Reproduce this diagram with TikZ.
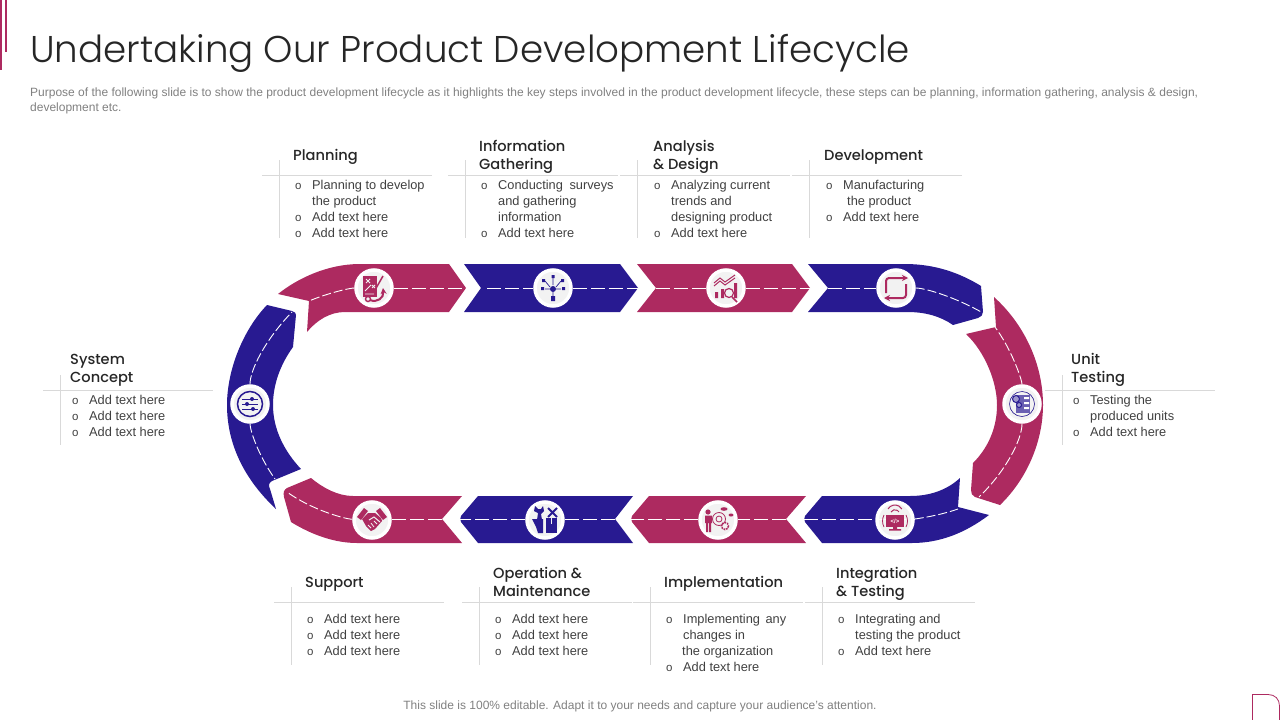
\documentclass[tikz,border=0pt]{standalone}
\usepackage{fontspec}
\setmainfont{Liberation Sans}
\newfontfamily\titlefont{Poppins}[UprightFont=* Light]
\newfontfamily\headfont{Poppins}[UprightFont=* Medium]
\definecolor{BrandCrimson}{HTML}{AD2A60}
\definecolor{BrandNavy}{HTML}{281A91}
\definecolor{RuleGray}{HTML}{D9D9D9}
\definecolor{BodyGray}{HTML}{404040}
\definecolor{NoteGray}{HTML}{808080}
\definecolor{DiscGray}{HTML}{F2F2F2}
\usetikzlibrary{arrows.meta,positioning}
\newcommand{\bul}{\strut\makebox[15pt][l]{\hspace*{-2pt}\fontsize{11.5}{16}\selectfont o}}
\newcommand{\cont}{\strut\hspace*{15pt}}
\begin{document}
\begin{tikzpicture}[
    x=1pt,y=-1pt,
    crimson/.style={fill=BrandCrimson},
    navy/.style={fill=BrandNavy},
    disc/.style={circle,draw=white,line width=3.5pt,fill=DiscGray,
      minimum size=36pt,inner sep=0pt},
    dashline/.style={white,line width=1pt,dash pattern=on 14pt off 4pt},
    dashcurve/.style={white,line width=0.9pt,dash pattern=on 9pt off 3pt},
    rulegray/.style={RuleGray,line width=0.6pt},
    heading/.style={inner sep=0pt,align=left,text=black!85,
      font=\headfont\fontsize{14.6}{18}\selectfont},
    bodytext/.style={inner sep=0pt,align=left,text=BodyGray,
      font=\fontsize{12.8}{16}\selectfont},
    iconc/.style={draw=BrandCrimson,line width=1pt},
    iconb/.style={draw=BrandNavy,line width=1pt},
    arr/.style={-{Stealth[length=6pt,width=6pt]}}
  ]
    \useasboundingbox (0,0) rectangle (1280,720);

    \fill[crimson] (0,0) rectangle (2,70);
    \fill[crimson] (5,0) rectangle (7,52);
    \draw[BrandCrimson,line width=0.8pt] (1252.5,720) -- (1252.5,694.5) -- (1268,694.5)
      .. controls (1275,694.5) and (1279.5,699) .. (1279.5,706) -- (1279.5,720);

    \node[anchor=west,inner sep=0pt,text=black!85,
      font=\titlefont\fontsize{37.25}{44}\selectfont] (title) at (30,53)
      {Undertaking Our Product Development Lifecycle};
    \node[anchor=north west,inner sep=0pt,align=left,text=NoteGray,
      font=\fontsize{12}{15}\selectfont] (purpose) at (30,87.5)
      {Purpose of the following slide is to show the product development lifecycle as it highlights the key steps involved in the product development lifecycle, these steps can be planning, information gathering, analysis \& design,\\
       development etc.};
    \node[inner sep=0pt,text=NoteGray,font=\fontsize{12}{14}\selectfont] (note) at (640,706)
      {This slide is 100\% editable. Adapt it to your needs and capture your audience's attention.};

    \fill[crimson] (278,294) .. controls (298,278) and (328,264) .. (360,264) -- (449,264)
      -- (466,288) -- (449,312) -- (345,312) .. controls (330,312) and (317,320) .. (307,332)
      -- (309,301) -- cycle;
    \fill[navy] (464,264) -- (620,264) -- (638,288) -- (620,312) -- (464,312) -- (481,288) -- cycle;
    \fill[crimson] (637,264) -- (792,264) -- (810,288) -- (792,312) -- (637,312) -- (656,288) -- cycle;
    \fill[navy] (808,264) -- (905,264) .. controls (935,264) and (960,273) .. (981,286)
      -- (983,312) .. controls (983,315) and (981,317) .. (978,318) -- (953,325)
      .. controls (940,316) and (925,312) .. (907,312) -- (808,312) -- (828,288) -- cycle;
    \fill[crimson] (994,297) .. controls (1025,325) and (1043,365) .. (1043,405)
      .. controls (1043,440) and (1028,478) .. (1000,505) -- (975,497)
      .. controls (972,496) and (971,493) .. (971,490) -- (973,463)
      .. controls (988,448) and (997,428) .. (997,405)
      .. controls (997,382) and (985,352) .. (966,334) -- (996,327) -- cycle;
    \fill[navy] (989,515) .. controls (965,533) and (940,543) .. (912,543) -- (822,543)
      -- (805,522) .. controls (804,520) and (804,518) .. (805,516) -- (822,496) -- (910,496)
      .. controls (930,496) and (947,490) .. (960,478) -- (958,507) -- cycle;
    \fill[crimson] (806,496) -- (786,519) -- (806,543) -- (649,543) -- (632,522)
      .. controls (631,520) and (631,518) .. (632,516) -- (649,496) -- cycle;
    \fill[navy] (633,496) -- (615,519) -- (633,543) -- (478,543) -- (461,522)
      .. controls (460,520) and (460,518) .. (461,516) -- (478,496) -- cycle;
    \fill[crimson] (462,496) -- (442,519) -- (462,543) -- (357,543)
      .. controls (335,543) and (312,535) .. (291,522) -- (284,497)
      .. controls (283,492) and (284,490) .. (287,488) -- (311,478)
      .. controls (323,488) and (338,496) .. (353,496) -- cycle;
    \fill[navy] (276,509) .. controls (245,480) and (227,445) .. (227,405)
      .. controls (227,370) and (243,330) .. (267,305) -- (292,311)
      .. controls (295,312) and (296,313) .. (296,315) -- (293,347)
      .. controls (280,365) and (273,385) .. (273,405)
      .. controls (273,430) and (285,452) .. (301,469) -- (272,481)
      .. controls (269,483) and (268,485) .. (270,489) -- cycle;

    \coordinate (planEnd) at (309,301);
    \coordinate (planTip) at (466,288);
    \coordinate (gatherStart) at (487,288);
    \coordinate (gatherTip) at (638,288);
    \coordinate (analysisStart) at (656,288);
    \coordinate (analysisTip) at (810,288);
    \coordinate (devStart) at (828,288);
    \coordinate (devEnd) at (983,313);
    \coordinate (unitEnd) at (995,327);
    \coordinate (unitTail) at (979,497);
    \coordinate (integEnd) at (958,509);
    \coordinate (integTip) at (804,519);
    \coordinate (implStart) at (786,519);
    \coordinate (implTip) at (631,519);
    \coordinate (opStart) at (615,519);
    \coordinate (opTip) at (460,519);
    \coordinate (supStart) at (442,519);
    \coordinate (supEnd) at (287,492);
    \coordinate (sysEnd) at (292,312);
    \coordinate (sysTail) at (275,479);

    \node[disc] (plan) at (374,288) {};
    \node[disc] (gather) at (553,288) {};
    \node[disc] (analysis) at (726,288) {};
    \node[disc] (dev) at (896,288) {};
    \node[disc] (unit) at (1022,404) {};
    \node[disc] (integ) at (895,520) {};
    \node[disc] (impl) at (718,520) {};
    \node[disc] (oper) at (545,520) {};
    \node[disc] (support) at (372,520) {};
    \node[disc] (system) at (250,404) {};

    \draw[dashcurve] (plan) .. controls (350,288) and (328,293) .. (planEnd);
    \draw[dashline] (plan.east |- planTip) -- (planTip);
    \draw[dashline] (gatherStart) -- (gather.west |- gatherStart);
    \draw[dashline] (gather.east |- gatherTip) -- (gatherTip);
    \draw[dashline] (analysisStart) -- (analysis.west |- analysisStart);
    \draw[dashline] (analysis.east |- analysisTip) -- (analysisTip);
    \draw[dashline] (devStart) -- (dev.west |- devStart);
    \draw[dashcurve] (dev) .. controls (925,288) and (955,297) .. (devEnd);
    \draw[dashcurve] (unit) .. controls (1022,380) and (1012,350) .. (unitEnd);
    \draw[dashcurve] (unit) .. controls (1022,440) and (1005,472) .. (unitTail);
    \draw[dashcurve] (integ) .. controls (915,519) and (938,516) .. (integEnd);
    \draw[dashline] (integTip) -- (integ.east |- integTip);
    \draw[dashline] (implStart) -- (impl.east |- implStart);
    \draw[dashline] (impl.west |- implTip) -- (implTip);
    \draw[dashline] (opStart) -- (oper.east |- opStart);
    \draw[dashline] (oper.west |- opTip) -- (opTip);
    \draw[dashline] (supStart) -- (support.east |- supStart);
    \draw[dashcurve] (support) .. controls (345,519) and (312,510) .. (supEnd);
    \draw[dashcurve] (system) .. controls (250,370) and (265,340) .. (sysEnd);
    \draw[dashcurve] (system) .. controls (250,430) and (258,455) .. (sysTail);

    \begin{scope}[shift={(plan)}]
      \fill[crimson] (-11,-12) rectangle (3,9);
      \draw[DiscGray,line width=0.9pt] (-8,-9) -- (-4,-5) (-4,-9) -- (-8,-5) (-2,-3) -- (1,0) (1,-3) -- (-2,0)
        (-9,3) -- (-3,-3) (-9,6) -- (0,6);
      \draw[iconc,line width=1.5pt] (1,2) -- (9,-12);
      \draw[iconc,line width=2pt,arr] (-4,12) .. controls (3,15) and (10,10) .. (9,0);
      \draw[iconc,fill=DiscGray,line width=1.4pt] (-6,11) circle (2.5);
    \end{scope}
    \begin{scope}[shift={(gather)}]
      \fill[navy] (0,1) circle (3);
      \draw[iconb,line width=0.7pt] (-3,-1) -- (-8,-7) (0,-3) -- (0,-10) (3,-1) -- (8,-7)
        (-3,1) -- (-8,1) (3,1) -- (8,1) (0,4) -- (0,8);
      \fill[navy] (-11,-9) rectangle (-8,-6) (-1.5,-13) rectangle (1.5,-10) (8,-9) rectangle (11,-6)
        (-12,-1) rectangle (-9,2) (9,-1) rectangle (12,2) (-2,8) rectangle (2,13);
    \end{scope}
    \begin{scope}[shift={(analysis)}]
      \fill[crimson] (-11,4) rectangle (-8,10) (-5,1) rectangle (-2,10) (8,-5) rectangle (11,10);
      \draw[iconc] (-12,-5) -- (-6,-10) -- (-1,-6) -- (9,-13);
      \draw[iconc] (-12,-2) -- (-6,-7) -- (-1,-3) -- (9,-10);
      \draw[iconc,line width=1.2pt] (3,5) circle (4.5);
      \draw[iconc,line width=1.6pt] (6,9) -- (11,14);
    \end{scope}
    \begin{scope}[shift={(dev)}]
      \draw[iconc,arr,line width=2pt,rounded corners=3pt] (-10,5) -- (-10,-10) -- (12,-10);
      \draw[iconc,arr,line width=2pt,rounded corners=3pt] (10,-4) -- (10,10) -- (-12,10);
    \end{scope}
    \begin{scope}[shift={(unit)}]
      \draw[iconb,line width=0.6pt] (0,0) circle (12.5);
      \fill[BrandNavy!70] (-6,-9) rectangle (8,9);
      \fill[white] (2,-7) rectangle (7,-5) (2,-2) rectangle (7,0) (2,3) rectangle (7,5);
      \draw[iconb,fill=BrandNavy!45] (-6,-5) circle (3.5);
      \draw[iconb,fill=BrandNavy!45] (-3,1) circle (2.5);
    \end{scope}
    \begin{scope}[shift={(integ)}]
      \fill[crimson] (-9,-5) rectangle (9,7);
      \fill[crimson] (-2,7) rectangle (2,9) (-6,9) rectangle (6,10.5);
      \node[inner sep=0pt,text=white,font=\bfseries\fontsize{6}{6}\selectfont] (integCode) at (0,1) {</>};
      \draw[iconc] (-4,-8) arc[start angle=-150,end angle=-30,radius=4.6];
      \draw[iconc] (-7,-11) arc[start angle=-150,end angle=-30,radius=8];
      \draw[iconc,line width=0.8pt] (-11,-5) .. controls (-13,-1) and (-13,3) .. (-11,7);
      \draw[iconc,line width=0.8pt] (11,-5) .. controls (13,-1) and (13,3) .. (11,7);
    \end{scope}
    \begin{scope}[shift={(impl)}]
      \fill[crimson] (-10,-8) circle (2.6);
      \fill[crimson] (-13,-4.5) rectangle (-6,3) (-12,3) rectangle (-10,12) (-9,3) rectangle (-7,12);
      \draw[iconc,line width=0.8pt] (1,-1) circle (6.5);
      \draw[iconc,line width=0.8pt] (1,-1) circle (3);
      \draw[iconc,line width=1.6pt,densely dotted] (7,6) circle (3.5);
      \fill[crimson] (6,-11) ellipse (3.5 and 1.8) (13,-5) ellipse (2.5 and 1.5);
    \end{scope}
    \begin{scope}[shift={(oper)}]
      \fill[navy] (-13,-1) -- (-2,-1) -- (-2,13) -- (-7,13) -- (-9,7) -- cycle;
      \fill[navy] (1,-2) rectangle (12,13);
      \draw[DiscGray,line width=0.9pt] (6.5,-2) -- (6.5,4);
      \fill[navy] (-8,0) -- (-7,-7) -- (-11,-9) -- (-10,-14) -- (-7,-11) -- (-4,-11) -- (-2,-14) -- (-1,-9) -- (-4,-6) -- (-3,0) -- cycle;
      \draw[iconb,line width=2pt] (3,-12) -- (12,-3) (12,-12) -- (3,-3);
    \end{scope}
    \begin{scope}[shift={(support)}]
      \fill[crimson] (-15,-3) -- (-8,-12) -- (-4,-9) -- (-11,0) -- cycle;
      \fill[crimson] (15,-3) -- (8,-12) -- (4,-9) -- (11,0) -- cycle;
      \fill[crimson] (-10,-1) -- (-4,-7) -- (3,-7) -- (9,-2) -- (10,1) -- (3,9) -- (-1,11) -- (-6,6) -- cycle;
      \draw[DiscGray,line width=1pt] (-3,0) -- (2,-3) -- (8,2);
      \draw[DiscGray,line width=0.8pt] (-4,5) -- (-1,8) (-1,3) -- (2,7) (2,1) -- (5,4);
    \end{scope}
    \begin{scope}[shift={(system)}]
      \draw[iconb,line width=1.5pt] (0,0) circle (12.5);
      \draw[iconb] (-8,-5) -- (8,-5) (-8,0) -- (8,0) (-8,5) -- (8,5);
      \fill[navy] (2,-5) circle (2) (-3,0) circle (2) (3,5) circle (2);
    \end{scope}

    \coordinate (planRule) at (279,175);
    \draw[rulegray] ([xshift=-17pt]planRule) -- ([xshift=153pt]planRule)
      ([yshift=15pt]planRule) -- ([yshift=-63pt]planRule);
    \node[heading,above right=8.6pt and 14pt of planRule] (planHead) {Planning\strut};
    \node[bodytext,below right=2.8pt and 18pt of planRule] (planBody)
      {\bul Planning to develop\\ \cont the product\\ \bul Add text here\\ \bul Add text here};

    \coordinate (gatherRule) at (465,175);
    \draw[rulegray] ([xshift=-17pt]gatherRule) -- ([xshift=153pt]gatherRule)
      ([yshift=15pt]gatherRule) -- ([yshift=-63pt]gatherRule);
    \node[heading,above right=-0.4pt and 14pt of gatherRule] (gatherHead) {Information\\ Gathering\strut};
    \node[bodytext,below right=2.8pt and 18pt of gatherRule] (gatherBody)
      {\bul Conducting\hspace{3pt} surveys\\ \cont and gathering\\ \cont information\\ \bul Add text here};

    \coordinate (analysisRule) at (637,175);
    \draw[rulegray] ([xshift=-17pt]analysisRule) -- ([xshift=153pt]analysisRule)
      ([yshift=15pt]analysisRule) -- ([yshift=-63pt]analysisRule);
    \node[heading,above right=-0.4pt and 16pt of analysisRule] (analysisHead) {Analysis\\ \& Design\strut};
    \node[bodytext,below right=2.8pt and 19pt of analysisRule] (analysisBody)
      {\bul Analyzing current\\ \cont trends and\\ \cont designing product\\ \bul Add text here};

    \coordinate (devRule) at (809,175);
    \draw[rulegray] ([xshift=-17pt]devRule) -- ([xshift=153pt]devRule)
      ([yshift=15pt]devRule) -- ([yshift=-63pt]devRule);
    \node[heading,above right=8.6pt and 15pt of devRule] (devHead) {Development\strut};
    \node[bodytext,below right=2.8pt and 19pt of devRule] (devBody)
      {\bul Manufacturing\\ \cont\hspace{4pt}the product\\ \bul Add text here};

    \coordinate (systemRule) at (60,390);
    \draw[rulegray] ([xshift=-17pt]systemRule) -- ([xshift=153pt]systemRule)
      ([yshift=15pt]systemRule) -- ([yshift=-55pt]systemRule);
    \node[heading,above right=1.6pt and 10pt of systemRule] (systemHead) {System\\ Concept\strut};
    \node[bodytext,below right=2.8pt and 14pt of systemRule] (systemBody)
      {\bul Add text here\\ \bul Add text here\\ \bul Add text here};

    \coordinate (unitRule) at (1062,390);
    \draw[rulegray] ([xshift=-17pt]unitRule) -- ([xshift=153pt]unitRule)
      ([yshift=15pt]unitRule) -- ([yshift=-55pt]unitRule);
    \node[heading,above right=1.6pt and 9pt of unitRule] (unitHead) {Unit\\ Testing\strut};
    \node[bodytext,below right=2.8pt and 13pt of unitRule] (unitBody)
      {\bul Testing the\\ \cont produced units\\ \bul Add text here};

    \coordinate (supportRule) at (291,602);
    \draw[rulegray] ([xshift=-17pt]supportRule) -- ([xshift=153pt]supportRule)
      ([yshift=15pt]supportRule) -- ([yshift=-63pt]supportRule);
    \node[heading,above right=8.6pt and 14pt of supportRule] (supportHead) {Support\strut};
    \node[bodytext,below right=9.8pt and 18pt of supportRule] (supportBody)
      {\bul Add text here\\ \bul Add text here\\ \bul Add text here};

    \coordinate (operRule) at (479,602);
    \draw[rulegray] ([xshift=-17pt]operRule) -- ([xshift=153pt]operRule)
      ([yshift=15pt]operRule) -- ([yshift=-63pt]operRule);
    \node[heading,above right=-0.4pt and 14pt of operRule] (operHead) {Operation \&\\ Maintenance\strut};
    \node[bodytext,below right=9.8pt and 18pt of operRule] (operBody)
      {\bul Add text here\\ \bul Add text here\\ \bul Add text here};

    \coordinate (implRule) at (650,602);
    \draw[rulegray] ([xshift=-17pt]implRule) -- ([xshift=153pt]implRule)
      ([yshift=15pt]implRule) -- ([yshift=-63pt]implRule);
    \node[heading,above right=8.6pt and 14pt of implRule] (implHead) {Implementation\strut};
    \node[bodytext,below right=9.8pt and 18pt of implRule] (implBody)
      {\bul Implementing\hspace{2pt} any\\ \cont changes in\\ \cont\hspace{-1pt}the organization\\ \bul Add text here};

    \coordinate (integRule) at (822,602);
    \draw[rulegray] ([xshift=-17pt]integRule) -- ([xshift=153pt]integRule)
      ([yshift=15pt]integRule) -- ([yshift=-63pt]integRule);
    \node[heading,above right=-0.4pt and 14pt of integRule] (integHead) {Integration\\ \& Testing\strut};
    \node[bodytext,below right=9.8pt and 18pt of integRule] (integBody)
      {\bul Integrating and\\ \cont testing the product\\ \bul Add text here};
  \end{tikzpicture}
\end{document}
